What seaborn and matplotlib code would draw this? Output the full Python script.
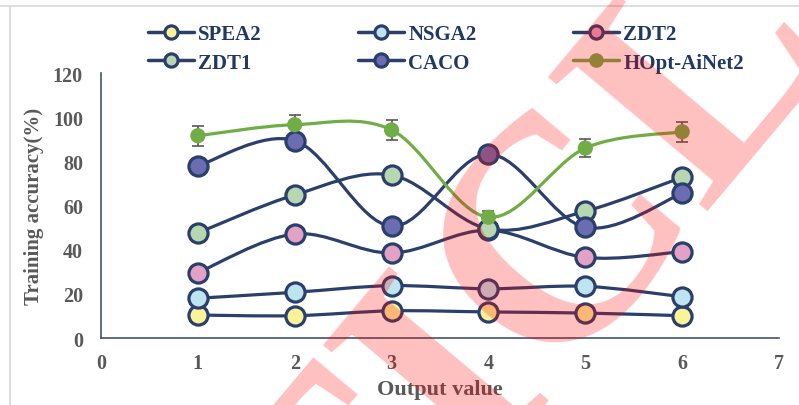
import numpy as np
import seaborn as sns
from matplotlib import pyplot as plt
from matplotlib.lines import Line2D
from matplotlib.path import Path
from matplotlib.patches import PathPatch

output_value = [1, 2, 3, 4, 5, 6]

spea2 = [10.4, 10.1, 12.3, 11.8, 11.3, 10.1]
nsga2 = [18.0, 20.7, 23.7, 22.3, 23.4, 18.7]
zdt2 = [29.6, 47.1, 38.5, 48.8, 36.5, 39.1]
zdt1 = [47.6, 64.8, 73.8, 49.4, 57.4, 72.8]
caco = [78.0, 89.4, 50.6, 83.3, 50.1, 65.5]
hopt = [91.6, 96.6, 94.2, 54.7, 86.0, 93.4]
hopt_err = [4.5, 4.5, 4.5, 3.0, 4.0, 4.5]

series_names = ["SPEA2", "NSGA2", "ZDT2", "ZDT1", "CACO", "HOpt-AiNet2"]
series_values = [spea2, nsga2, zdt2, zdt1, caco, hopt]

NAVY = "#2b3f6c"
GREEN = "#70ad47"
fills = {
    "SPEA2": "#fbf39a",
    "NSGA2": "#bde4ef",
    "ZDT2": "#e3a1c5",
    "ZDT1": "#b6d7b0",
    "CACO": "#6a6eb0",
    "HOpt-AiNet2": GREEN,
}

sns.set_style("white")
plt.rcParams["font.family"] = ["Liberation Serif", "DejaVu Serif"]
plt.rcParams["font.weight"] = "bold"


def smooth_path(xs, ys):
    # excel-like smoothed line: cubic bezier with catmull-rom control points
    pts = np.column_stack([xs, ys]).astype(float)
    ext = np.vstack([pts[0], pts, pts[-1]])
    verts = [pts[0]]
    codes = [Path.MOVETO]
    for i in range(len(pts) - 1):
        p0, p1, p2, p3 = ext[i], ext[i + 1], ext[i + 2], ext[i + 3]
        verts += [p1 + (p2 - p0) / 6, p2 - (p3 - p1) / 6, p2]
        codes += [Path.CURVE4] * 3
    return Path(verts, codes)


fig = plt.figure(figsize=(7.99, 4.06), dpi=100)
ax = fig.add_axes([0.1264, 0.165, 0.8486, 0.6527])

for name, vals in zip(series_names, series_values):
    color = GREEN if name == "HOpt-AiNet2" else NAVY
    ax.add_patch(PathPatch(smooth_path(output_value, vals), fill=False,
                           edgecolor=color, lw=2.3, zorder=2,
                           capstyle="round"))
    if name == "HOpt-AiNet2":
        ax.errorbar(output_value, vals, yerr=hopt_err, fmt="none",
                    ecolor="#595959", elinewidth=1.2, capsize=4, capthick=1.2,
                    zorder=3)
        sns.scatterplot(x=output_value, y=vals, ax=ax, color=GREEN, s=120,
                        edgecolor="none", zorder=4, legend=False)
    else:
        sns.scatterplot(x=output_value, y=vals, ax=ax, color=fills[name],
                        s=190, edgecolor=NAVY, linewidth=2.3, zorder=4,
                        legend=False)

ax.set_xlim(0, 7)
ax.set_ylim(0, 120)
ax.set_xticks(range(0, 8))
ax.set_yticks(range(0, 121, 20))
ax.tick_params(axis="both", length=0, labelsize=14.5, labelcolor="#595959")
ax.tick_params(axis="x", pad=11)
ax.tick_params(axis="y", pad=13)
for lab in ax.get_xticklabels() + ax.get_yticklabels():
    lab.set_fontweight("bold")
for side in ["top", "right"]:
    ax.spines[side].set_visible(False)
for side in ["left", "bottom"]:
    ax.spines[side].set_color("#44546a")
    ax.spines[side].set_linewidth(1.2)

ax.set_xlabel("Output value", fontsize=16, fontweight="bold",
              color="#595959", labelpad=4)
ax.set_ylabel("Training accuracy(%)", fontsize=15, fontweight="bold",
              color="#595959", labelpad=6)

# legend, column-first order for 3 columns x 2 rows
handles = {}
for name in series_names:
    if name == "HOpt-AiNet2":
        handles[name] = Line2D([0], [0], color=GREEN, lw=2.5, marker="o",
                               markersize=9.5, markerfacecolor=GREEN,
                               markeredgecolor=GREEN)
    else:
        handles[name] = Line2D([0], [0], color=NAVY, lw=2.5, marker="o",
                               markersize=9.5, markerfacecolor=fills[name],
                               markeredgecolor=NAVY, markeredgewidth=2.3)
order = ["SPEA2", "ZDT1", "NSGA2", "CACO", "ZDT2", "HOpt-AiNet2"]
leg = fig.legend([handles[n] for n in order], order, ncol=3,
                 loc="upper left", bbox_to_anchor=(0.172, 0.963),
                 frameon=False, borderpad=0, handlelength=2.2,
                 handletextpad=0.2, columnspacing=4.65, labelspacing=0.4,
                 prop={"weight": "bold", "size": 15})
for t in leg.get_texts():
    t.set_color("#203864")

# chart border lines (top and left)
fig.add_artist(Line2D([0, 1], [0.983, 0.983], transform=fig.transFigure,
                      color="#d9d9d9", lw=1.2))
fig.add_artist(Line2D([0.0125, 0.0125], [0, 0.983], transform=fig.transFigure,
                      color="#d9d9d9", lw=1.2))

# watermark
fig.text(0.569, 0.04, "ARTICLE", fontsize=230, fontweight="bold",
         color="#ff0000", alpha=0.25, rotation=50, rotation_mode="anchor",
         ha="center", va="center", zorder=10)

fig.savefig("out.png", dpi=100)
